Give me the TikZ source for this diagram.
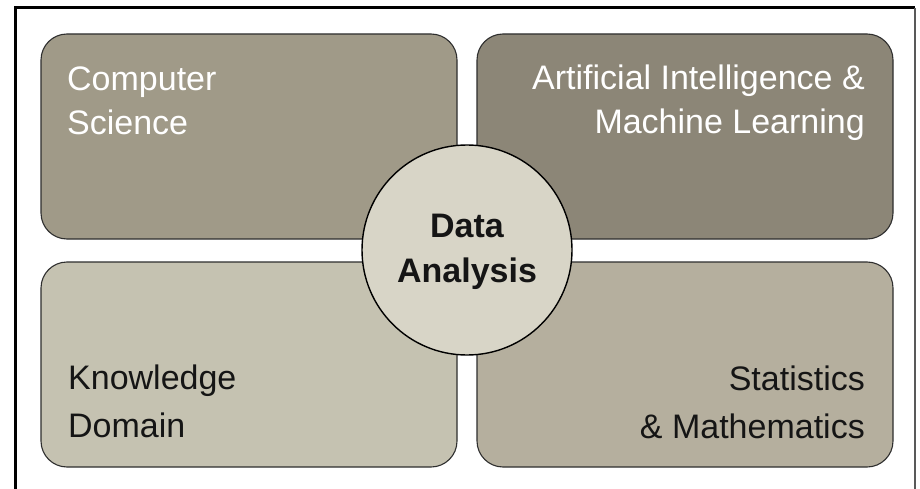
\documentclass[tikz,border=0pt]{standalone}
\usepackage{fontspec}
\setmainfont{Liberation Sans}
\definecolor{cTL}{HTML}{A09A88}
\definecolor{cTR}{HTML}{8C8677}
\definecolor{cBL}{HTML}{C5C2B1}
\definecolor{cBR}{HTML}{B5AF9E}
\definecolor{cC}{HTML}{D8D5C7}
\definecolor{edge}{HTML}{2E2E2E}
\definecolor{ink}{HTML}{151515}
\tikzset{
  quad/.style={draw=edge, line width=1.1pt, rounded corners=26pt, minimum width=416pt, minimum height=205pt, inner sep=0pt},
  lbl/.style={inner sep=0pt, font=\fontsize{34}{44}\selectfont},
  hub/.style={circle, draw=black, line width=1.4pt, fill=cC, minimum size=210pt, inner sep=0pt},
  hubtext/.style={inner sep=0pt, align=center, text=ink, font=\fontsize{34}{45}\selectfont\bfseries},
}
\begin{document}
\begin{tikzpicture}[x=1pt,y=-1pt]
\useasboundingbox (0,0) rectangle (920,489);
\fill[white] (0,0) rectangle (920,489);
% frame
\draw[line width=3pt, black] (15,489) -- (15,8) -- (915,8);
\draw[line width=1.5pt, gray!70!black] (915,8) -- (915,489);
% quadrants
\node[quad, fill=cTL] (tl) at (249,136.5) {};
\node[quad, fill=cTR] (tr) at (685,136.5) {};
\node[quad, fill=cBL] (bl) at (249,364.5) {};
\node[quad, fill=cBR] (br) at (685,364.5) {};
% labels (anchored at the baseline of the last line)
\node[lbl, text=white, align=left, anchor=base west] (tlt) at (67,135) {Computer\\Science};
\node[lbl, text=white, align=right, anchor=base east] (trt) at (865,134) {Artificial Intelligence \&\\Machine Learning};
\node[lbl, text=ink, align=left, anchor=base west, font=\fontsize{34}{48}\selectfont] (blt) at (68,437) {Knowledge\\Domain};
\node[lbl, text=ink, align=right, anchor=base east, font=\fontsize{34}{48}\selectfont] (brt) at (865,438) {Statistics\\\& Mathematics};
% hub
\node[hub] (hub) at (467,250) {};
\node[hubtext, anchor=base] (hubt) at (467,282) {Data\\Analysis};
\end{tikzpicture}
\end{document}
